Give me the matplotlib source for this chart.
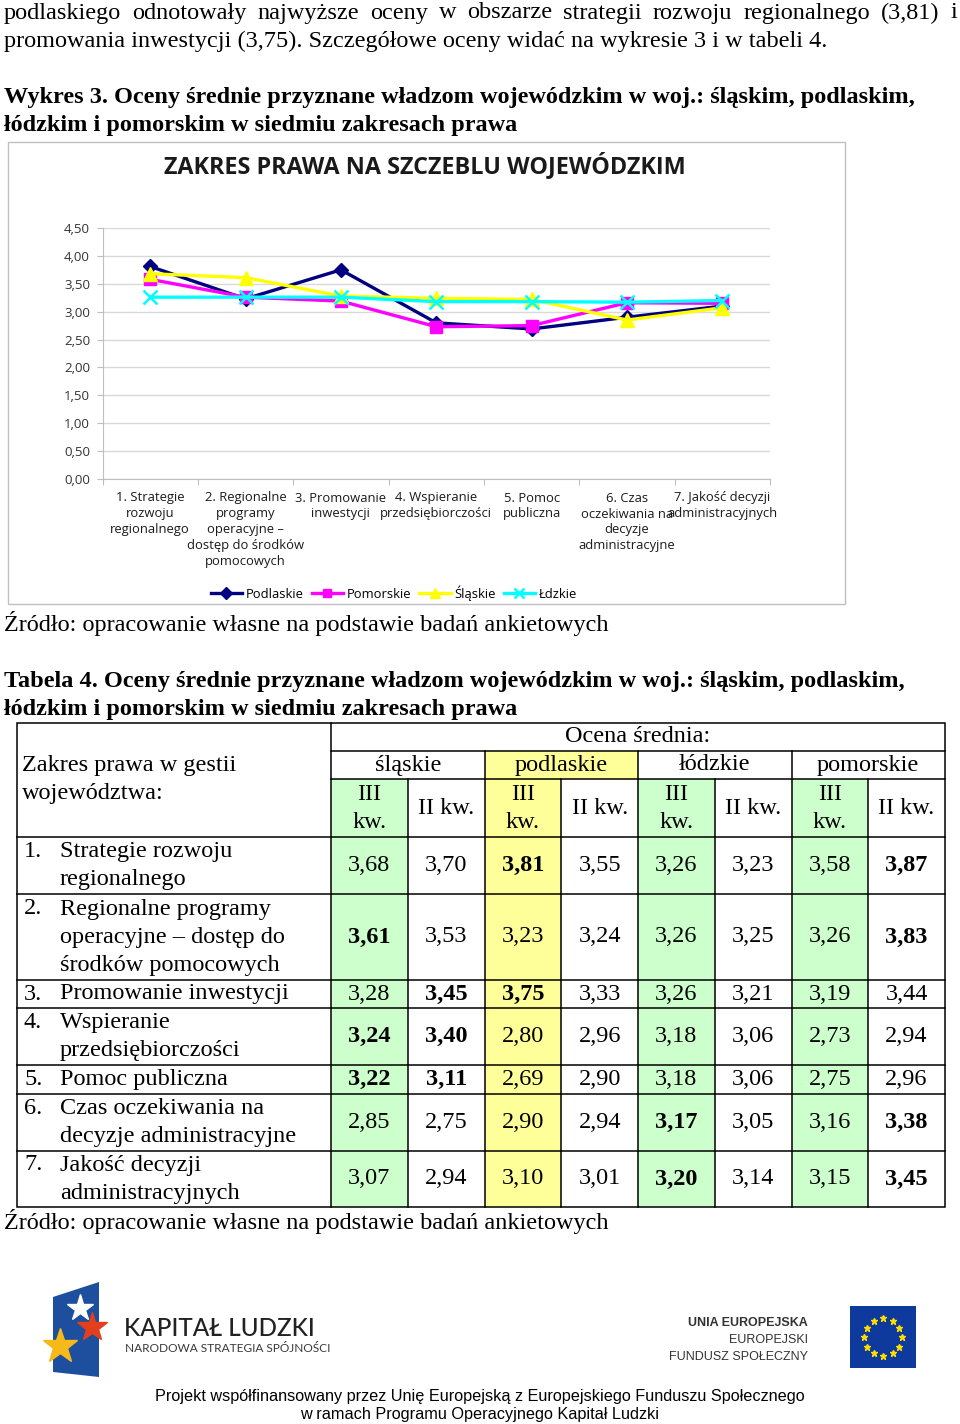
import matplotlib
matplotlib.use('Agg')
import matplotlib.pyplot as plt
from matplotlib.patches import Rectangle, Polygon
from matplotlib.lines import Line2D
import numpy as np

# ---------------- data ----------------
categories = [
    "1. Strategie\nrozwoju\nregionalnego",
    "2. Regionalne\nprogramy\noperacyjne –\ndostęp do środków\npomocowych",
    "3. Promowanie\ninwestycji",
    "4. Wspieranie\nprzedsiębiorczości",
    "5. Pomoc\npubliczna",
    "6. Czas\noczekiwania na\ndecyzje\nadministracyjne",
    "7. Jakość decyzji\nadministracyjnych",
]
series_names = ["Podlaskie", "Pomorskie", "Śląskie", "Łdzkie"]
podlaskie = [3.81, 3.23, 3.75, 2.80, 2.69, 2.90, 3.10]
pomorskie = [3.58, 3.26, 3.19, 2.73, 2.75, 3.16, 3.15]
slaskie = [3.68, 3.61, 3.28, 3.24, 3.22, 2.85, 3.07]
lodzkie = [3.26, 3.26, 3.26, 3.18, 3.18, 3.17, 3.20]
yticks = [0.0, 0.5, 1.0, 1.5, 2.0, 2.5, 3.0, 3.5, 4.0, 4.5]

# table data (II kw.)
slaskie_II = [3.70, 3.53, 3.45, 3.40, 3.11, 2.75, 2.94]
podlaskie_II = [3.55, 3.24, 3.33, 2.96, 2.90, 2.94, 3.01]
lodzkie_II = [3.23, 3.25, 3.21, 3.06, 3.06, 3.05, 3.14]
pomorskie_II = [3.87, 3.83, 3.44, 2.94, 2.96, 3.38, 3.45]
region_heads = ["śląskie", "podlaskie", "łódzkie", "pomorskie"]
row_numbers = ["1.", "2.", "3.", "4.", "5.", "6.", "7."]
row_texts = [
    ["Strategie rozwoju", "regionalnego"],
    ["Regionalne programy", "operacyjne – dostęp do", "środków pomocowych"],
    ["Promowanie inwestycji"],
    ["Wspieranie", "przedsiębiorczości"],
    ["Pomoc publiczna"],
    ["Czas oczekiwania na", "decyzje administracyjne"],
    ["Jakość decyzji", "administracyjnych"],
]
# bold cells: (row, column index 0..7)
bold_cells = [(0, 2), (0, 7), (1, 0), (1, 7), (2, 1), (2, 2), (3, 0), (3, 1),
              (4, 0), (4, 1), (5, 4), (5, 7), (6, 4), (6, 7)]

# ---------------- figure ----------------
W, H = 960, 1424
fig = plt.figure(figsize=(9.6, 14.24), dpi=100)
bg = fig.add_axes([0, 0, 1, 1])
bg.set_xlim(0, W)
bg.set_ylim(H, 0)
bg.axis('off')

SERIF = 'Liberation Serif'
SANS = 'Open Sans'
FS = 17.5

def fx(x):
    return x / W

def fy(y):
    return 1 - y / H

def justify(text, x0, x1, y, **kw):
    words = text.split()
    objs = [bg.text(0, y, w, ha='left', va='center', **kw) for w in words]
    r = fig.canvas.get_renderer()
    widths = [o.get_window_extent(r).width for o in objs]
    gap = (x1 - x0 - sum(widths)) / (len(words) - 1)
    x = x0
    for o, w in zip(objs, widths):
        o.set_x(x)
        x += w + gap

# ---------- top paragraph ----------
justify("podlaskiego odnotowały najwyższe oceny w obszarze strategii rozwoju regionalnego (3,81) i",
        4, 957, 13, fontsize=FS, family=SERIF)
bg.text(4, 41, "promowania inwestycji (3,75). Szczegółowe oceny widać na wykresie 3 i w tabeli 4.",
        fontsize=FS, family=SERIF, va='center')
bg.text(4, 97, "Wykres 3. Oceny średnie przyznane władzom wojewódzkim w woj.: śląskim, podlaskim,",
        fontsize=FS, family=SERIF, weight='bold', va='center')
bg.text(4, 125, "łódzkim i pomorskim w siedmiu zakresach prawa",
        fontsize=FS, family=SERIF, weight='bold', va='center')

# ---------- chart ----------
bg.add_patch(Rectangle((8, 142), 837, 462, fill=False, edgecolor='#c0c0c0', lw=1.0))
bg.text(425, 166, "ZAKRES PRAWA NA SZCZEBLU WOJEWÓDZKIM", ha='center', va='center',
        fontsize=16.8, family=SANS, weight='bold', color='#1a1a1a')

ax = fig.add_axes([fx(102.5), fy(479), (770 - 102.5) / W, (479 - 228) / H])
x = np.arange(len(categories))
styles = [
    (podlaskie, '#000080', 'D', 7.5, 1.0),
    (pomorskie, '#ff00ff', 's', 8.5, 1.0),
    (slaskie, '#ffff00', '^', 9.5, 1.0),
    (lodzkie, '#00ffff', 'x', 9.5, 1.8),
]
handles = []
for (vals, col, mk, ms, mew), name in zip(styles, series_names):
    ln, = ax.plot(x, vals, color=col, lw=2.4, marker=mk, ms=ms, mec=col, mfc=col,
                  mew=mew, label=name, clip_on=False)
    handles.append(ln)
ax.set_xlim(-0.5, len(categories) - 0.5)
ax.set_ylim(0, 4.5)
ax.set_yticks(yticks)
ax.set_yticklabels([f"{v:.2f}".replace('.', ',') for v in yticks],
                   fontsize=9.5, family=SANS, color='#333333')
ax.yaxis.grid(True, color='#d9d9d9', lw=1.0)
ax.set_axisbelow(True)
for s in ['top', 'right']:
    ax.spines[s].set_visible(False)
for s in ['left', 'bottom']:
    ax.spines[s].set_color('#bfbfbf')
ax.tick_params(axis='y', length=4, color='#bfbfbf', pad=5)
ax.set_xticks(np.arange(-0.5, len(categories), 1.0), minor=False)
ax.set_xticklabels([])
ax.set_xticks(x, minor=True)
ax.set_xticklabels(categories, minor=True, fontsize=9.4, family=SANS,
                   color='#1a1a1a', linespacing=1.3, va='top')
ax.tick_params(axis='x', which='major', length=4, color='#bfbfbf', direction='out')
ax.tick_params(axis='x', which='minor', length=0, pad=9)
ax.set_facecolor('none')

fig.legend(handles=handles, labels=series_names, loc='center',
           bbox_to_anchor=(fx(394), fy(593)), ncol=4, frameon=False,
           prop={'family': SANS, 'size': 9.4}, handlelength=2.4,
           handletextpad=0.3, columnspacing=0.6, markerscale=0.75)

bg.text(4, 624, "Źródło: opracowanie własne na podstawie badań ankietowych",
        fontsize=FS, family=SERIF, va='center')

# ---------- table ----------
bg.text(4, 681, "Tabela 4. Oceny średnie przyznane władzom wojewódzkim w woj.: śląskim, podlaskim,",
        fontsize=FS, family=SERIF, weight='bold', va='center')
bg.text(4, 709, "łódzkim i pomorskim w siedmiu zakresach prawa",
        fontsize=FS, family=SERIF, weight='bold', va='center')

TX0, TX1 = 17, 945
C0 = 331
CW = (TX1 - C0) / 8
T_TOP, R_OCENA, R_REG, R_HEAD = 723, 751, 779, 837
row_bounds = [837, 894, 980, 1008, 1065, 1094, 1151, 1207]
T_BOT = row_bounds[-1]
GREEN = '#ccffcc'
YELLOW = '#ffff99'

for i in [0, 4, 6]:
    bg.add_patch(Rectangle((C0 + i * CW, R_REG), CW, T_BOT - R_REG, color=GREEN, lw=0))
bg.add_patch(Rectangle((C0 + 2 * CW, R_REG), CW, T_BOT - R_REG, color=YELLOW, lw=0))
bg.add_patch(Rectangle((C0 + 2 * CW, R_OCENA), 2 * CW, R_REG - R_OCENA, color=YELLOW, lw=0))

LW = 1.1
K = 'black'
bg.add_patch(Rectangle((TX0, T_TOP), TX1 - TX0, T_BOT - T_TOP, fill=False, edgecolor=K, lw=LW))
bg.plot([C0, C0], [T_TOP, T_BOT], color=K, lw=LW)
bg.plot([C0, TX1], [R_OCENA, R_OCENA], color=K, lw=LW)
bg.plot([C0, TX1], [R_REG, R_REG], color=K, lw=LW)
for i in [2, 4, 6]:
    bg.plot([C0 + i * CW] * 2, [R_OCENA, T_BOT], color=K, lw=LW)
for i in [1, 3, 5, 7]:
    bg.plot([C0 + i * CW] * 2, [R_REG, T_BOT], color=K, lw=LW)
for yb in row_bounds[:-1]:
    bg.plot([TX0, TX1], [yb, yb], color=K, lw=LW)

bg.text((C0 + TX1) / 2, 737, "Ocena średnia:", ha='center', va='center', fontsize=FS, family=SERIF)
for i, name in enumerate(region_heads):
    bg.text(C0 + (2 * i + 1) * CW, 765, name, ha='center', va='center', fontsize=FS, family=SERIF)
    bg.text(C0 + (2 * i + 0.5) * CW, 794, "III", ha='center', va='center', fontsize=FS,
            family=SERIF)
    bg.text(C0 + (2 * i + 0.5) * CW, 822, "kw.", ha='center', va='center', fontsize=FS,
            family=SERIF)
    bg.text(C0 + (2 * i + 1.5) * CW, 808, "II kw.", ha='center', va='center', fontsize=FS,
            family=SERIF)
bg.text(22, 765, "Zakres prawa w gestii", va='center', fontsize=FS, family=SERIF)
bg.text(22, 794, "województwa:", va='center', fontsize=FS, family=SERIF)

cols = [slaskie, slaskie_II, podlaskie, podlaskie_II, lodzkie, lodzkie_II, pomorskie, pomorskie_II]
for r in range(7):
    yc = (row_bounds[r] + row_bounds[r + 1]) / 2
    lines = row_texts[r]
    y0 = yc - (len(lines) - 1) * 14
    bg.text(24, y0, row_numbers[r], va='center', fontsize=FS, family=SERIF)
    for j, t in enumerate(lines):
        bg.text(60, y0 + 28 * j, t, va='center', fontsize=FS, family=SERIF)
    for c in range(8):
        v = f"{cols[c][r]:.2f}".replace('.', ',')
        bg.text(C0 + (c + 0.5) * CW, yc, v, ha='center', va='center', fontsize=FS,
                family=SERIF, weight='bold' if (r, c) in bold_cells else 'normal')

bg.text(4, 1222, "Źródło: opracowanie własne na podstawie badań ankietowych",
        fontsize=FS, family=SERIF, va='center')

# ---------- logos ----------
bg.add_patch(Polygon([(53, 1297), (99, 1282), (99, 1377), (53, 1372)], closed=True,
                     color='#1d4f9e', lw=0))
bg.plot([80], [1308], marker='*', ms=20, color='white', mec='white')
bg.plot([92], [1327], marker='*', ms=22, color='#e2401c', mec='#e2401c')
bg.plot([60], [1346], marker='*', ms=26, color='#f6b91a', mec='#f6b91a')
bg.text(124, 1328, "KAPITAŁ LUDZKI", va='center', ha='left', fontsize=17.5, family='Lato',
        weight='medium', color='#222222')
bg.text(125, 1348, "NARODOWA STRATEGIA SPÓJNOŚCI", va='center', ha='left', fontsize=8.6,
        family='Lato', color='#3a3a3a')

bg.text(808, 1323, "UNIA EUROPEJSKA", ha='right', va='center', fontsize=9,
        family='Liberation Sans', weight='bold', color='#333333')
bg.text(808, 1340, "EUROPEJSKI", ha='right', va='center', fontsize=9,
        family='Liberation Sans', color='#333333')
bg.text(808, 1357, "FUNDUSZ SPOŁECZNY", ha='right', va='center', fontsize=9,
        family='Liberation Sans', color='#333333')
bg.add_patch(Rectangle((850, 1306), 66, 62, color='#0d3a9c', lw=0))
ang = np.linspace(0, 2 * np.pi, 12, endpoint=False)
bg.plot(883 + 19 * np.cos(ang), 1337 + 19 * np.sin(ang), ls='none', marker='*', ms=4.5,
        color='#ffdd00', mec='#ffdd00')

bg.text(480, 1396, "Projekt współfinansowany przez Unię Europejską z Europejskiego Funduszu Społecznego",
        ha='center', va='center', fontsize=11.7, family='Liberation Sans')
bg.text(480, 1414, "w ramach Programu Operacyjnego Kapitał Ludzki",
        ha='center', va='center', fontsize=11.7, family='Liberation Sans')

fig.savefig('out.png', dpi=100)
